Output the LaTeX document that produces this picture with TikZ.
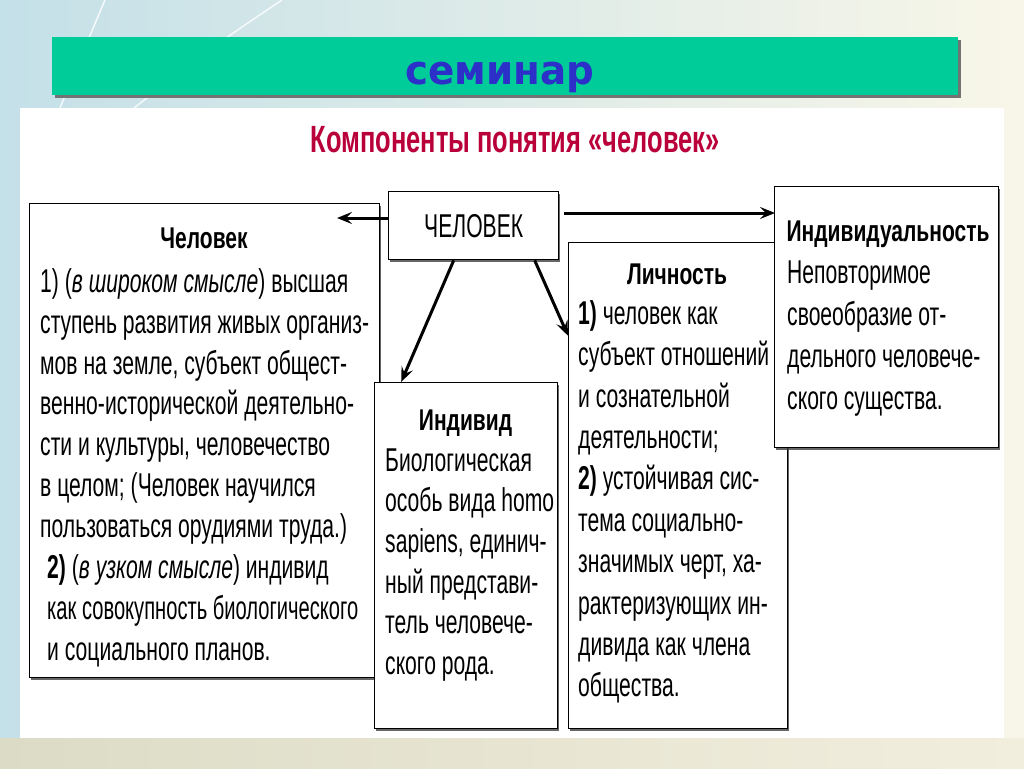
\documentclass[tikz,border=0pt]{standalone}
\usepackage{fontspec}
\setmainfont{Liberation Sans}
\newfontfamily\bodyf[FakeStretch=0.64]{Liberation Sans}
\newfontfamily\bodyn[FakeStretch=0.61]{Liberation Sans}
\newfontfamily\headf[FakeStretch=0.7]{Liberation Sans}
\newfontfamily\titlef[FakeStretch=0.67]{Liberation Sans}
\newfontfamily\semf[FakeStretch=0.97]{DejaVu Sans}
\usetikzlibrary{arrows.meta,shadows}
\definecolor{bannergreen}{RGB}{0,204,153}
\definecolor{semblue}{RGB}{44,48,200}
\definecolor{titlered}{RGB}{185,0,58}
\definecolor{bgleft}{RGB}{196,224,232}
\definecolor{bgright}{RGB}{248,246,232}
\definecolor{botleft}{RGB}{220,220,198}
\definecolor{botright}{RGB}{242,238,222}
\begin{document}
\begin{tikzpicture}[x=1pt,y=-1pt,
  box/.style={draw=black, line width=1.4pt, fill=white, inner sep=0pt, anchor=north west,
    drop shadow={shadow xshift=1.5pt, shadow yshift=-2.5pt, fill=black!75, opacity=0.8}},
  arr/.style={line width=3pt, -{Stealth[length=15pt,width=12pt,inset=6pt]}},
  bodytxt/.style={inner sep=0pt, anchor=north west, align=left},
  headtxt/.style={inner sep=0pt, anchor=base, font=\headf\bfseries\fontsize{30}{32}\selectfont}]
\useasboundingbox (0,0) rectangle (1024,768);
% slide background
\shade[left color=bgleft, right color=bgright] (0,0) rectangle (1024,768);
\shade[left color=botleft, right color=botright] (0,738) rectangle (1024,768);
\draw[white, line width=1.5pt, opacity=0.8] (105,0) .. controls (88,40) .. (60,108);
\draw[white, line width=1.5pt, opacity=0.8] (282,0) .. controls (215,45) .. (134,108);
\fill[white] (20,108) rectangle (1004,738);
% banner
\fill[black!55] (55,40) rectangle (961,98);
\fill[bannergreen] (52,37) rectangle (958,95);
\node[inner sep=0pt, anchor=base, text=semblue, font=\semf\bfseries\fontsize{40}{44}\selectfont] (sem) at (500,84) {семинар};
% title
\node[inner sep=0pt, text=titlered, font=\titlef\bfseries\fontsize{38}{40}\selectfont] (title) at (515,140) {Компоненты понятия «человек»};
% boxes
\node[box, minimum width=350pt, minimum height=474pt] (man) at (29,203) {};
\node[box, minimum width=170pt, minimum height=68pt, font=\bodyf\fontsize{33}{36}\selectfont] (chel) at (388,191) {ЧЕЛОВЕК};
\node[box, minimum width=219pt, minimum height=486pt] (lich) at (568,242) {};
\node[box, minimum width=183pt, minimum height=346pt] (indv) at (374,382) {};
\node[box, minimum width=224pt, minimum height=261pt] (indl) at (774,186) {};
% connectors
\coordinate (lt) at (337,218);
\coordinate (rt) at (775,213);
\draw[arr] (chel.west |- lt) -- (lt);
\draw[arr] ([xshift=5pt]chel.east |- rt) -- (rt);
\draw[arr] ([xshift=-20pt]chel.south) -- ([xshift=-65pt]indv.north);
\draw[arr] ([xshift=61pt]chel.south) -- ([yshift=150pt]lich.west);
% headings
\node[headtxt] (hman) at (204,248) {Человек};
\node[headtxt] (hindv) at (465.5,430) {Индивид};
\node[headtxt] (hlich) at (677,284) {Личность};
\node[headtxt] (hindl) at (888,241) {Индивидуальность};
% texts
\node[bodytxt, font=\bodyf\fontsize{33}{40.9}\selectfont] (tman) at (40,262) {\rule{0pt}{30pt}1) (\textit{в широком смысле}) высшая\\
ступень развития живых организ-\\
мов на земле, субъект общест-\\
венно-исторической деятельно-\\
сти и культуры, человечество\\
в целом; (Человек научился\\
пользоваться орудиями труда.)\\
\hspace*{7pt}\textbf{2)} (\textit{в узком смысле}) индивид\\
\hspace*{7pt}{\bodyn как совокупность биологического}\\
\hspace*{7pt}и социального планов.};
\node[bodytxt, font=\bodyf\fontsize{33}{40.6}\selectfont] (tindv) at (385,441) {\rule{0pt}{30pt}Биологическая\\
особь вида homo\\
sapiens, единич-\\
ный представи-\\
тель человече-\\
ского рода.};
\node[bodytxt, font=\bodyf\fontsize{33}{41.4}\selectfont] (tlich) at (578,294) {\rule{0pt}{30pt}\textbf{1)} человек как\\
субъект отношений\\
и сознательной\\
деятельности;\\
\textbf{2)} устойчивая сис-\\
тема социально-\\
значимых черт, ха-\\
рактеризующих ин-\\
дивида как члена\\
общества.};
\node[bodytxt, font=\bodyf\fontsize{33}{42}\selectfont] (tindl) at (787,253) {\rule{0pt}{30pt}Неповторимое\\
своеобразие от-\\
дельного человече-\\
ского существа.};
\end{tikzpicture}
\end{document}
